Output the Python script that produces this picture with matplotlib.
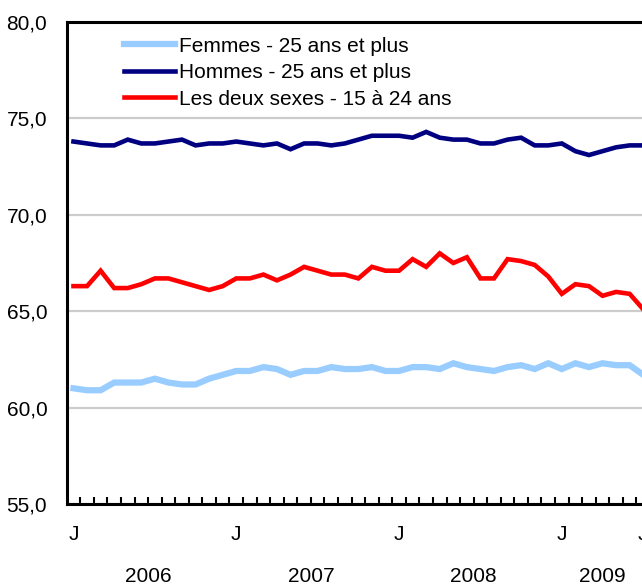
import matplotlib
matplotlib.use("Agg")
import matplotlib.pyplot as plt
import matplotlib.transforms as mtransforms
from matplotlib.ticker import FuncFormatter

plt.rcParams['font.family'] = ['Liberation Sans', 'DejaVu Sans']

# Données mensuelles, janvier 2006 à juillet 2009
annees = ['2006', '2007', '2008', '2009']
mois_par_annee = [12, 12, 12, 7]
etiq_mois = ['J', 'F', 'M', 'A', 'M', 'J', 'J', 'A', 'S', 'O', 'N', 'D']

femmes = [61.0, 60.9, 60.9, 61.3, 61.3, 61.3, 61.5, 61.3, 61.2, 61.2,
          61.5, 61.7, 61.9, 61.9, 62.1, 62.0, 61.7, 61.9, 61.9, 62.1,
          62.0, 62.0, 62.1, 61.9, 61.9, 62.1, 62.1, 62.0, 62.3, 62.1,
          62.0, 61.9, 62.1, 62.2, 62.0, 62.3, 62.0, 62.3, 62.1, 62.3,
          62.2, 62.2, 61.7]
hommes = [73.8, 73.7, 73.6, 73.6, 73.9, 73.7, 73.7, 73.8, 73.9, 73.6,
          73.7, 73.7, 73.8, 73.7, 73.6, 73.7, 73.4, 73.7, 73.7, 73.6,
          73.7, 73.9, 74.1, 74.1, 74.1, 74.0, 74.3, 74.0, 73.9, 73.9,
          73.7, 73.7, 73.9, 74.0, 73.6, 73.6, 73.7, 73.3, 73.1, 73.3,
          73.5, 73.6, 73.6]
jeunes = [66.3, 66.3, 67.1, 66.2, 66.2, 66.4, 66.7, 66.7, 66.5, 66.3,
          66.1, 66.3, 66.7, 66.7, 66.9, 66.6, 66.9, 67.3, 67.1, 66.9,
          66.9, 66.7, 67.3, 67.1, 67.1, 67.7, 67.3, 68.0, 67.5, 67.8,
          66.7, 66.7, 67.7, 67.6, 67.4, 66.8, 65.9, 66.4, 66.3, 65.8,
          66.0, 65.9, 65.1]

series = [
    (femmes, 'Femmes - 25 ans et plus', '#99CCFF', 4.5),
    (hommes, 'Hommes - 25 ans et plus', '#000080', 3.3),
    (jeunes, 'Les deux sexes - 15 à 24 ans', '#FF0000', 3.3),
]

x = list(range(len(femmes)))

fig = plt.figure(figsize=(6.42, 5.88), dpi=100)
ax = fig.add_axes([66.7 / 642, 84 / 588, (650 - 66.7) / 642, (504 - 22) / 588])

for y, nom, coul, lw in series:
    ax.plot(x, y, color=coul, lw=lw, label=nom, solid_joinstyle='miter', zorder=3)

ax.set_xlim(-0.5, len(x) - 0.5)
ax.set_ylim(55, 80)
ax.set_yticks([55, 60, 65, 70, 75, 80])
ax.yaxis.set_major_formatter(FuncFormatter(lambda v, p: f'{v:.1f}'.replace('.', ',')))
ax.tick_params(axis='y', length=0, pad=14, labelsize=15)

# graduations entre les mois
ax.set_xticks([i + 0.5 for i in range(len(x) - 1)])
ax.set_xticklabels([])
ax.tick_params(axis='x', direction='in', length=5, width=1.5, color='black')

ax.grid(axis='y', color='#CCCCCC', lw=1.6, zorder=0)
for s in ['left', 'bottom', 'top']:
    ax.spines[s].set_linewidth(2.2)
    ax.spines[s].set_color('black')
ax.spines['right'].set_visible(False)

trans = mtransforms.blended_transform_factory(ax.transData, ax.transAxes)
debut = 0
for an, n in zip(annees, mois_par_annee):
    ax.text(debut, -0.064, etiq_mois[0], transform=trans, ha='center', va='center', fontsize=15)
    ax.text(debut + (n - 1) / 2, -0.151, an, transform=trans, ha='center', va='center', fontsize=15)
    debut += n
ax.text(len(x) - 1, -0.064, etiq_mois[(len(x) - 1) % 12], transform=trans,
        ha='center', va='center', fontsize=15)

ax.legend(loc='upper left', bbox_to_anchor=(0.073, 1.0), frameon=False, fontsize=15,
          handlelength=2.45, handletextpad=0.2, labelspacing=0.36, borderaxespad=0.3)

fig.savefig('out.png', dpi=100)
